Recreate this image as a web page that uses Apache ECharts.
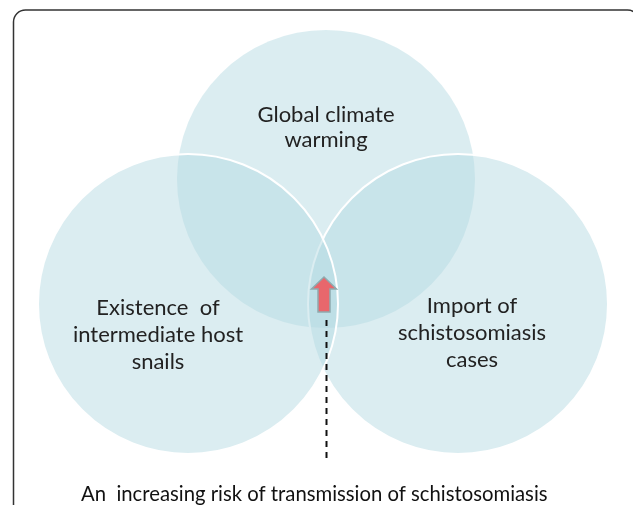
<!DOCTYPE html>
<html>
<head>
<meta charset="utf-8">
<title>Schistosomiasis transmission risk</title>
<script src="https://cdn.jsdelivr.net/npm/echarts@6/dist/echarts.min.js"></script>
<style>
  html, body { margin: 0; padding: 0; background: #fff; }
  #chart { width: 633px; height: 505px; }
</style>
</head>
<body>
<div id="chart"></div>
<script>
// the three sets (drawn top, right, left so the left ring ends up on top)
var setNames = ['Global climate\nwarming', 'Import of\nschistosomiasis\ncases', 'Existence  of\nintermediate host\nsnails'];
var setX = [326, 458, 188];   // circle centres, diagram units
var setY = [179, 304, 304];
var setR = [149, 150, 150];
var labelX = [326, 472, 158];
var labelY = [127, 333, 335];

// arrow pointing into the triple overlap + dashed leader down to the caption
var arrowX = [324];
var arrowY = [277, 312];    // tip, base of shaft
var leaderY = [320, 460];
var caption = 'An  increasing risk of transmission of schistosomiasis';

var FONT = 'Lato, "Open Sans", sans-serif';

var setData = setNames.map(function (n, i) {
    return [setX[i], setY[i], setR[i]];
});
var labelData = setNames.map(function (n, i) {
    return [labelX[i], labelY[i]];
});

var myChart = echarts.init(document.getElementById('chart'));

function renderSet(params, api) {
    var c = api.coord([api.value(0), api.value(1)]);
    var r = api.size([api.value(2), 0])[0];
    var top = params.dataIndex === 0;
    return {
        type: 'circle',
        shape: { cx: c[0], cy: c[1], r: r },
        style: {
            fill: 'rgba(180,218,226,0.48)',
            stroke: top ? null : '#ffffff',
            lineWidth: 2
        }
    };
}

function renderLabel(params, api) {
    var p = api.coord([api.value(0), api.value(1)]);
    return {
        type: 'text',
        style: {
            text: setNames[params.dataIndex],
            x: p[0],
            y: p[1],
            textAlign: 'center',
            textVerticalAlign: 'middle',
            font: '22px ' + FONT,
            lineHeight: params.dataIndex === 0 ? 25 : 27,
            fill: '#222'
        }
    };
}

function renderArrow(params, api) {
    var tip = api.coord([api.value(0), api.value(1)]);
    var base = api.coord([api.value(0), api.value(2)]);
    var l0 = api.coord([api.value(0), api.value(3)]);
    var l1 = api.coord([api.value(0), api.value(4)]);
    var headW = 12.5, shaftW = 6, headH = 12;
    var x = tip[0];
    return {
        type: 'group',
        children: [{
            type: 'line',
            shape: { x1: l0[0] + 2.5, y1: l0[1], x2: l1[0] + 2.5, y2: l1[1] },
            style: { stroke: '#111', lineWidth: 2, lineDash: [6, 5] }
        }, {
            type: 'polygon',
            shape: {
                points: [
                    [x, tip[1]],
                    [x + headW, tip[1] + headH],
                    [x + shaftW, tip[1] + headH],
                    [x + shaftW, base[1]],
                    [x - shaftW, base[1]],
                    [x - shaftW, tip[1] + headH],
                    [x - headW, tip[1] + headH]
                ]
            },
            style: { fill: '#e8676c', stroke: '#8eaaae', lineWidth: 1.5 }
        }]
    };
}

var option = {
    animation: false,
    backgroundColor: '#ffffff',
    grid: { left: 0, right: 0, top: 0, bottom: 0 },
    xAxis: { type: 'value', min: 0, max: 633, show: false },
    yAxis: { type: 'value', min: 0, max: 505, inverse: true, show: false },
    title: {
        text: caption,
        left: 76,
        top: 479,
        textStyle: { fontFamily: FONT, fontSize: 20.3, fontWeight: 'normal', color: '#111' }
    },
    graphic: [{
        type: 'rect',
        shape: { x: 13.5, y: 10, width: 626, height: 530, r: 12 },
        style: { fill: null, stroke: '#333', lineWidth: 1.5 },
        z: 100
    }],
    series: [{
        type: 'custom',
        renderItem: renderSet,
        data: setData,
        silent: true
    }, {
        type: 'custom',
        renderItem: renderArrow,
        data: [[arrowX[0], arrowY[0], arrowY[1], leaderY[0], leaderY[1]]],
        silent: true
    }, {
        type: 'custom',
        renderItem: renderLabel,
        data: labelData,
        silent: true
    }]
};
myChart.setOption(option);
</script>
</body>
</html>
